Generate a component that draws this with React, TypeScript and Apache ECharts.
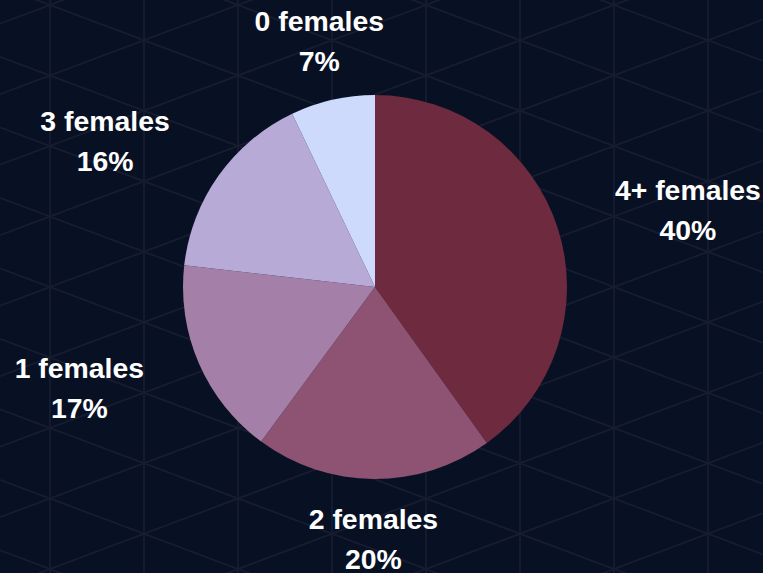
import React, { useEffect, useRef } from "react";
import * as echarts from "echarts";

const categories = ["4+ females", "2 females", "1 females", "3 females", "0 females"];
const shares = [40.1, 20.0, 16.7, 16.1, 7.1];
const sliceColors = ["#6e2a3e", "#8e5273", "#a47fa8", "#b8aad6", "#cedafb"];

const W = 763;
const H = 573;
const CX = 375;
const CY = 287;
const R = 192;
const LABEL_GAP = 60;
const FONT = "'Liberation Sans', Arial, Helvetica, sans-serif";

function backgroundGrid() {
  const els: any[] = [];
  const stroke = { stroke: "#181c31", lineWidth: 1.8 };
  const dx = 94;
  const dy = 70.5;
  const slope = dy / 2 / dx;
  for (let k = -1; k < 10; k++) {
    const x = 50 + dx * k;
    els.push({ type: "line", silent: true, z: 0, shape: { x1: x, y1: 0, x2: x, y2: H }, style: stroke });
  }
  for (let m = -14; m <= 14; m++) {
    const y0 = CY + dy * m;
    els.push({
      type: "line", silent: true, z: 0,
      shape: { x1: 0, y1: y0 + slope * (0 - 50), x2: W, y2: y0 + slope * (W - 50) },
      style: stroke,
    });
    els.push({
      type: "line", silent: true, z: 0,
      shape: { x1: 0, y1: y0 - slope * (0 - 50), x2: W, y2: y0 - slope * (W - 50) },
      style: stroke,
    });
  }
  return els;
}

export default function App() {
  const ref = useRef<HTMLDivElement>(null);
  useEffect(() => {
    if (!ref.current) return;
    const chart = echarts.init(ref.current, null, { renderer: "svg" });
    chart.setOption({
      animation: false,
      backgroundColor: "#081124",
      graphic: { elements: backgroundGrid() },
      series: [
        {
          type: "pie",
          z: 2,
          center: [CX, CY],
          radius: R,
          startAngle: 90,
          clockwise: true,
          avoidLabelOverlap: false,
          percentPrecision: 0,
          emphasis: { disabled: true },
          itemStyle: { borderWidth: 0 },
          label: {
            show: true,
            position: "outside",
            distanceToLabelLine: 0,
            formatter: "{t|{b}}\n{t|{d}%}",
            rich: {
              t: {
                align: "center",
                color: "#ffffff",
                fontSize: 28.4,
                fontWeight: "bold",
                fontFamily: FONT,
                lineHeight: 40,
              },
            },
          },
          labelLine: { show: false, length: LABEL_GAP, length2: 0 },
          labelLayout: (p: any) => {
            const r = p.labelRect;
            const anchorX = p.align === "left" ? r.x : p.align === "right" ? r.x + r.width : r.x + r.width / 2;
            if (Math.abs(anchorX - CX) < 0.5 * (R + LABEL_GAP)) {
              return { x: anchorX, align: "center" };
            }
            return {};
          },
          data: categories.map((name, i) => ({
            name,
            value: shares[i],
            itemStyle: { color: sliceColors[i] },
          })),
        },
      ],
    });
    return () => chart.dispose();
  }, []);
  return (
    <div
      ref={ref}
      style={{ position: "fixed", left: 0, top: 0, width: W, height: H }}
    />
  );
}
